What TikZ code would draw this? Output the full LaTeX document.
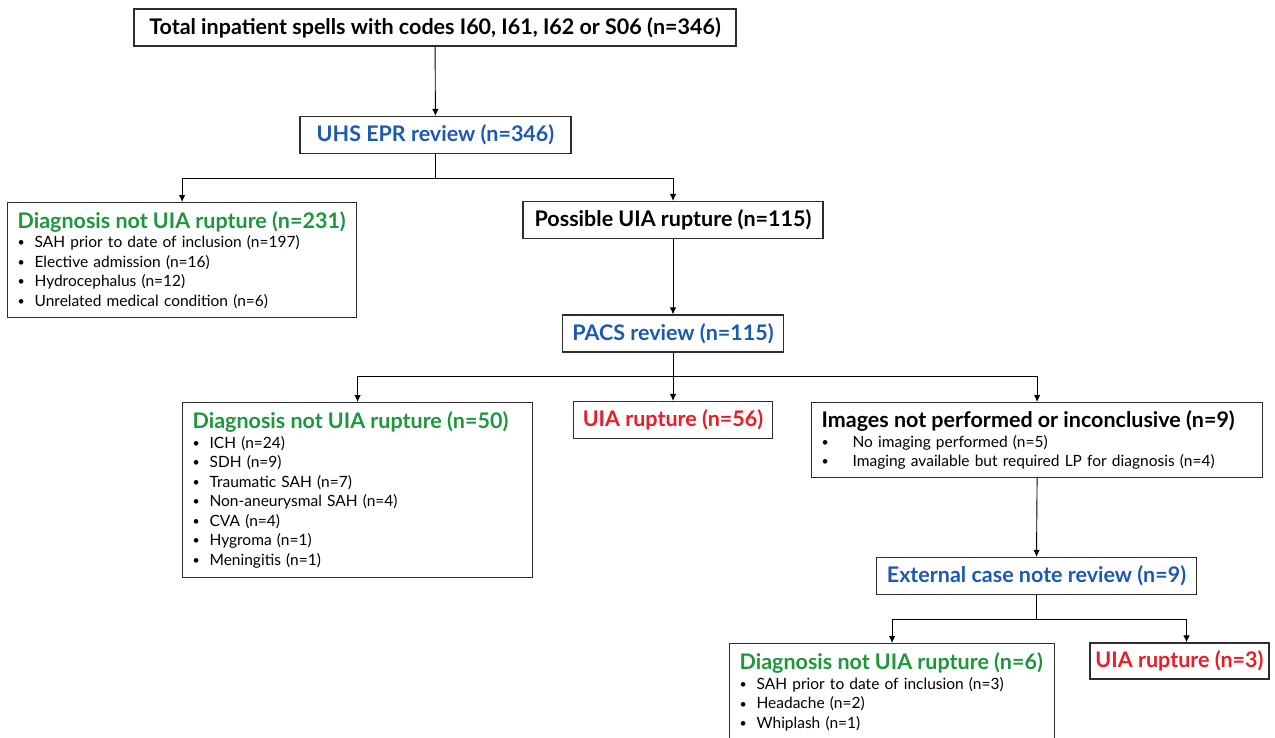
\documentclass[tikz,border=0pt]{standalone}
\usepackage{fontspec}
\setmainfont{Lato}
\usetikzlibrary{arrows.meta}

\definecolor{boxgray}{RGB}{45,45,45}
\definecolor{revblue}{RGB}{28,88,180}
\definecolor{notgreen}{RGB}{30,150,60}
\definecolor{rupred}{RGB}{236,28,36}

\newcommand{\hd}[1]{{\fontsize{21.5}{19.5}\selectfont\bfseries #1}}
\newcommand{\bul}[2][17pt]{\makebox[#1][l]{\raisebox{0.12ex}{\scalebox{0.8}{\textbullet}}}#2}

\tikzset{
  box/.style={draw=boxgray, line width=1.2pt, inner sep=0pt, minimum height=37pt, font=\fontsize{21.5}{20}\selectfont\bfseries},
  listbox/.style={draw=boxgray, line width=1.2pt, anchor=north west, align=left, inner xsep=10pt, inner ysep=0pt, font=\fontsize{15.5}{19.5}\selectfont},
  arr/.style={-{Latex[length=7pt,width=6.5pt]}, line width=0.9pt},
}

\begin{document}
\begin{tikzpicture}[x=1pt,y=-1pt]
  \useasboundingbox (0,0) rectangle (1275,737);

  \node[box, minimum width=602pt] (top) at (435,27.5) {Total inpatient spells with codes I60, I61, I62 or S06 (n=346)};
  \node[box, minimum width=271pt, text=revblue] (uhs) at (435.5,135) {UHS EPR review (n=346)};

  \node[listbox, minimum width=349pt, minimum height=115pt, text width=329pt] (diagA) at (7,202)
    {\hd{\textcolor{notgreen}{Diagnosis not UIA rupture (n=231)}}\\
     \bul{SAH prior to date of inclusion (n=197)}\\
     \bul{Elective admission (n=16)}\\
     \bul{Hydrocephalus (n=12)}\\
     \bul{Unrelated medical condition (n=6)}};
  \node[box, minimum width=300pt] (poss) at (673,220) {Possible UIA rupture (n=115)};

  \node[box, minimum width=221pt, text=revblue] (pacs) at (673,333.5) {PACS review (n=115)};

  \node[listbox, minimum width=350pt, minimum height=175pt, text width=330pt] (diagB) at (182,402)
    {\hd{\textcolor{notgreen}{Diagnosis not UIA rupture (n=50)}}\\
     \bul{ICH (n=24)}\\
     \bul{SDH (n=9)}\\
     \bul{Traumatic SAH (n=7)}\\
     \bul{Non-aneurysmal SAH (n=4)}\\
     \bul{CVA (n=4)}\\
     \bul{Hygroma (n=1)}\\
     \bul{Meningitis (n=1)}};
  \node[box, minimum width=199pt, text=rupred] (uiaA) at (673,420) {UIA rupture (n=56)};
  \node[listbox, minimum width=451pt, minimum height=75pt, text width=431pt] (imgs) at (811,402)
    {\hd{Images not performed or inconclusive (n=9)}\\
     \bul[31pt]{No imaging performed (n=5)}\\
     \bul[31pt]{Imaging available but required LP for diagnosis (n=4)}};

  \node[box, minimum width=320pt, text=revblue] (ext) at (1036.5,576) {External case note review (n=9)};

  \node[listbox, minimum width=325pt, minimum height=97pt, text width=305pt] (diagC) at (729,643)
    {\hd{\textcolor{notgreen}{Diagnosis not UIA rupture (n=6)}}\\
     \bul{SAH prior to date of inclusion (n=3)}\\
     \bul{Headache (n=2)}\\
     \bul{Whiplash (n=1)}};
  \node[box, minimum width=179pt, minimum height=36pt, text=rupred] (uiaB) at (1179.5,661) {UIA rupture (n=3)};

  % connectors
  \draw[arr] (top) -- (uhs);
  \draw[arr] (uhs.south) -- ++(0,24) -| (diagA.north);
  \draw[arr] (uhs.south) -- ++(0,24) -| (poss.north);
  \draw[arr] (poss) -- (pacs);
  \draw[arr] (pacs.south) -- ++(0,24) -| (diagB.north);
  \draw[arr] (pacs) -- (uiaA);
  \draw[arr] (pacs.south) -- ++(0,24) -| (imgs.north);
  \draw[arr] (imgs.south) -- (ext.north);
  \draw[arr] (ext.south) -- ++(0,24) -| (diagC.north);
  \draw[arr] (ext.south) -- ++(0,24) -| ([xshift=7pt]uiaB.north);
\end{tikzpicture}
\end{document}
